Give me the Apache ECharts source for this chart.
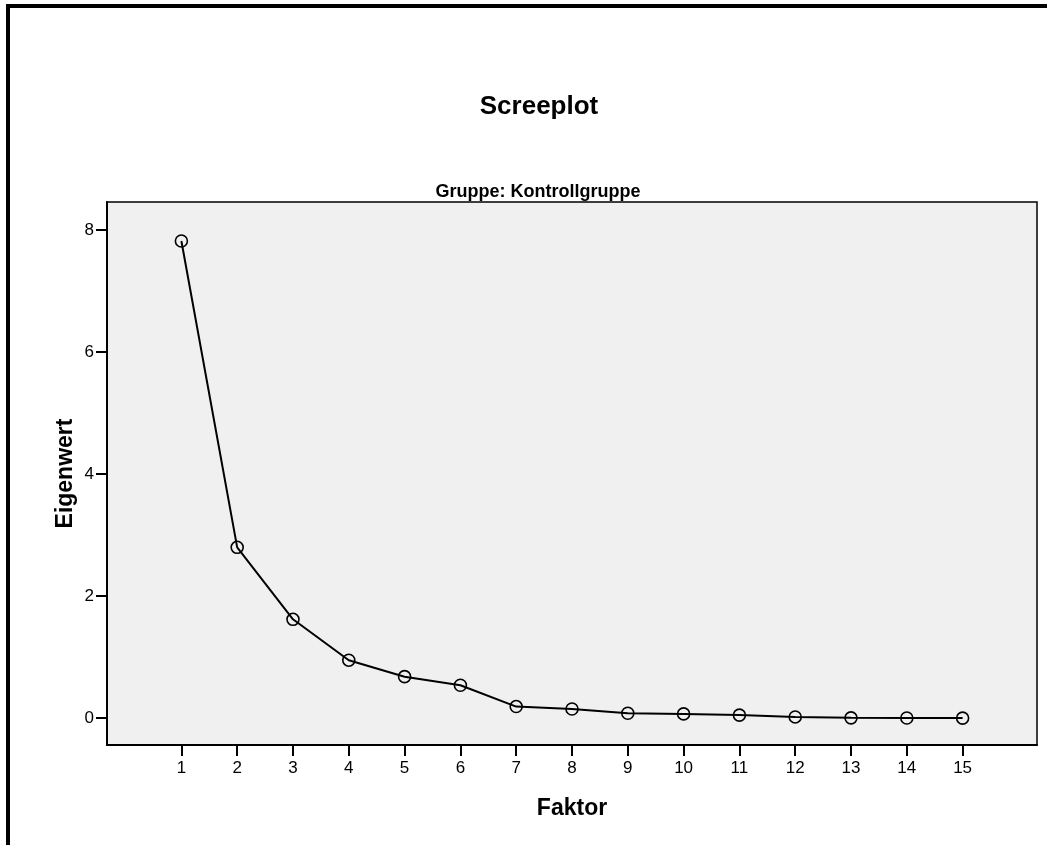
<!DOCTYPE html>
<html>
<head>
<meta charset="utf-8">
<script src="https://cdn.jsdelivr.net/npm/echarts@6/dist/echarts.min.js"></script>
<style>
html,body{margin:0;padding:0;background:#fff;}
#chart{width:1047px;height:845px;}
</style>
</head>
<body>
<div id="chart"></div>
<script>
const factors = [1,2,3,4,5,6,7,8,9,10,11,12,13,14,15];
const eigenvalues = [7.82,2.80,1.62,0.95,0.68,0.54,0.19,0.15,0.08,0.07,0.05,0.02,0.005,0.003,0.001];
const yTicks = [0,2,4,6,8];
const titleText = 'Screeplot';
const subtitleText = 'Gruppe: Kontrollgruppe';
const xName = 'Faktor';
const yName = 'Eigenwert';

const chart = echarts.init(document.getElementById('chart'), null, {renderer:'canvas'});
const FONT = 'Liberation Sans, Arial, sans-serif';
const option = {
  backgroundColor: '#ffffff',
  animation: false,
  title: [
    {text: titleText, left: 534, top: 89, textAlign: 'center',
     textStyle: {fontFamily: FONT, fontSize: 26, fontWeight: 'bold', color: '#000'}},
    {text: subtitleText, left: 533, top: 178, textAlign: 'center',
     textStyle: {fontFamily: FONT, fontSize: 18, fontWeight: 'bold', color: '#000'}}
  ],
  graphic: [
    {type: 'line', shape: {x1: 8, y1: 4, x2: 8, y2: 845}, style: {stroke: '#000', lineWidth: 4}},
    {type: 'line', shape: {x1: 6, y1: 6, x2: 1047, y2: 6}, style: {stroke: '#000', lineWidth: 4}}
  ],
  grid: {left: 107, right: 10, top: 202, bottom: 100, show: true,
    backgroundColor: '#F0F0F0', borderColor: '#000', borderWidth: 1.5},
  xAxis: {
    type: 'value', min: -0.333, max: 16.333,
    name: xName, nameLocation: 'middle', nameGap: 52, nameMoveOverlap: false,
    nameTextStyle: {fontFamily: FONT, fontSize: 23, fontWeight: 'bold', color: '#000'},
    axisLine: {show: true, onZero: false, lineStyle: {color: '#000', width: 2}},
    axisTick: {show: true, length: 11, lineStyle: {color: '#000', width: 2}, customValues: factors},
    axisLabel: {customValues: factors, fontFamily: FONT, fontSize: 17, color: '#000', margin: 15},
    splitLine: {show: false}
  },
  yAxis: {
    type: 'value', min: -0.44, max: 8.46,
    name: yName, nameLocation: 'middle', nameGap: 30, nameRotate: 90, nameMoveOverlap: false,
    nameTextStyle: {fontFamily: FONT, fontSize: 23, fontWeight: 'bold', color: '#000'},
    axisLine: {show: true, onZero: false, lineStyle: {color: '#000', width: 2}},
    axisTick: {show: true, length: 11, lineStyle: {color: '#000', width: 2}, customValues: yTicks},
    axisLabel: {customValues: yTicks, fontFamily: FONT, fontSize: 17, color: '#000', margin: 13},
    splitLine: {show: false}
  },
  series: [{
    type: 'line',
    data: factors.map((f, i) => [f, eigenvalues[i]]),
    symbol: 'circle', symbolSize: 12,
    lineStyle: {color: '#000', width: 2},
    itemStyle: {color: 'rgba(0,0,0,0)', borderColor: '#000', borderWidth: 1.6},
    z: 3
  }]
};
chart.setOption(option);
</script>
</body>
</html>
